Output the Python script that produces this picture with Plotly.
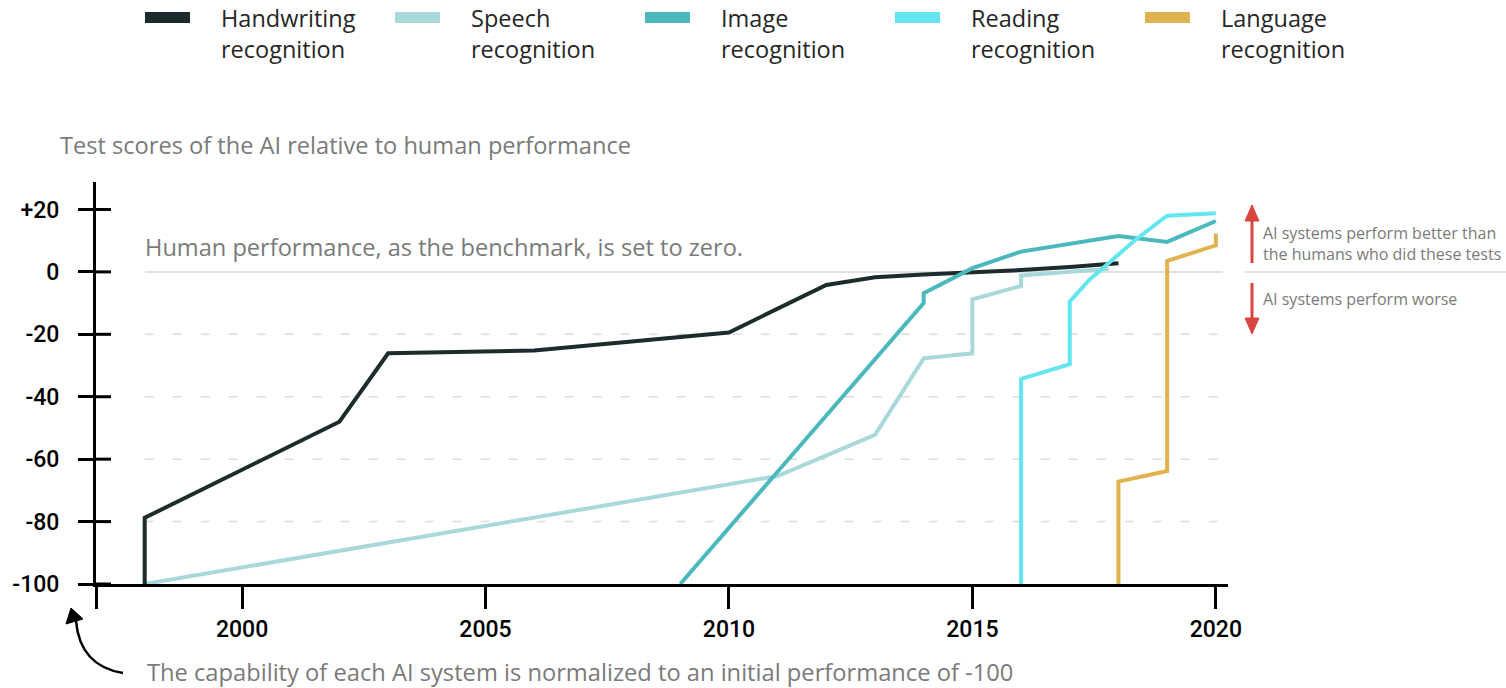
import plotly.graph_objects as go

# ---------------- data ----------------
hand_x = [1998.0, 1998.0, 2002.0, 2003.0, 2006.0, 2010.0, 2012.0, 2013.0, 2014.0, 2015.0, 2016.0, 2017.0, 2018.0]
hand_y = [-100, -78.8, -48.0, -26.1, -25.2, -19.4, -4.2, -1.7, -0.8, -0.2, 0.6, 1.6, 2.8]

speech_x = [1998.0, 2011.0, 2013.0, 2014.0, 2015.0, 2015.0, 2016.0, 2016.0, 2017.8]
speech_y = [-100, -65.4, -52.2, -27.7, -26.1, -8.8, -4.5, -1.2, 1.0]

image_x = [2009.0, 2014.0, 2014.0, 2015.0, 2016.0, 2018.0, 2019.0, 2020.0]
image_y = [-100, -10.0, -6.8, 1.2, 6.5, 11.5, 9.6, 16.3]

reading_x = [2016.0, 2016.0, 2017.0, 2017.0, 2017.4, 2018.35, 2019.0, 2020.0]
reading_y = [-100, -34.3, -29.6, -9.5, -2.6, 10.3, 18.0, 18.8]

lang_x = [2018.0, 2018.0, 2019.0, 2019.0, 2020.0, 2020.0]
lang_y = [-100, -67.2, -63.8, 3.5, 8.5, 12.3]

series_names = ["Handwriting recognition", "Speech recognition", "Image recognition",
                "Reading recognition", "Language recognition"]
series_colors = ["#1c2b2b", "#a9d8da", "#4ab8bd", "#64e6ef", "#dfb350"]

y_tickvals = [20, 0, -20, -40, -60, -80, -100]
y_ticktext = ["+20", "0", "-20", "-40", "-60", "-80", "-100"]
x_tickvals = [1997, 2000, 2005, 2010, 2015, 2020]
x_ticktext = ["", "2000", "2005", "2010", "2015", "2020"]
grid_vals = [-20, -40, -60, -80]

title_text = "Test scores of the AI relative to human performance"
human_text = "Human performance, as the benchmark, is set to zero."
norm_text = "The capability of each AI system is normalized to an initial performance of -100"
better_text = "AI systems perform better than<br>the humans who did these tests"
worse_text = "AI systems perform worse"

# ---------------- layout geometry (pixels) ----------------
W, H = 1506, 688
L, R, T, B = 96, 1228, 182, 584


def px(x):
    return (x - L) / (R - L)


def py(y):
    return (B - y) / (B - T)


FONT = "Roboto"
TFONT = "Open Sans"
GRAY = "#7a7a7a"

series = [
    (hand_x, hand_y), (speech_x, speech_y), (image_x, image_y),
    (reading_x, reading_y), (lang_x, lang_y),
]

fig = go.Figure()
draw_order = [1, 0, 2, 3, 4]
for i in draw_order:
    xs, ys = series[i]
    fig.add_trace(go.Scatter(
        x=xs, y=ys, mode="lines", name=series_names[i],
        line=dict(color=series_colors[i], width=4),
        showlegend=False, hoverinfo="skip",
    ))

shapes = []
# dashed gridlines
for v in grid_vals:
    shapes.append(dict(type="line", xref="x", yref="y", x0=1998, x1=2020.15, y0=v, y1=v,
                       line=dict(color="#dcdcdc", width=1.5, dash="9px,19px"), layer="below"))
# human performance line (with a gap before the side notes)
shapes.append(dict(type="line", xref="paper", yref="y", x0=px(145), x1=px(1223), y0=0, y1=0,
                   line=dict(color="#e0e0e0", width=2), layer="below"))
shapes.append(dict(type="line", xref="paper", yref="y", x0=px(1245), x1=px(1506), y0=0, y1=0,
                   line=dict(color="#e0e0e0", width=2), layer="below"))
# right half of the crossing y ticks
for v in y_tickvals:
    shapes.append(dict(type="line", xref="paper", yref="y", x0=0, x1=px(111), y0=v, y1=v,
                       line=dict(color="black", width=3)))


def path(points, close=False):
    s = "M " + " L ".join(f"{px(a):.5f},{py(b):.5f}" for a, b in points)
    return s + (" Z" if close else "")


RED = "#d8453e"
# red up arrow
shapes.append(dict(type="path", xref="paper", yref="paper", path=path([(1252, 263), (1252, 218)]),
                   line=dict(color=RED, width=3)))
shapes.append(dict(type="path", xref="paper", yref="paper",
                   path=path([(1252, 205), (1245, 221), (1259, 221)], close=True),
                   fillcolor=RED, line=dict(color=RED, width=1)))
# red down arrow
shapes.append(dict(type="path", xref="paper", yref="paper", path=path([(1252, 283), (1252, 321)]),
                   line=dict(color=RED, width=3)))
shapes.append(dict(type="path", xref="paper", yref="paper",
                   path=path([(1252, 334), (1245, 318), (1259, 318)], close=True),
                   fillcolor=RED, line=dict(color=RED, width=1)))
# curved black arrow bottom-left
shapes.append(dict(type="path", xref="paper", yref="paper",
                   path=f"M {px(123):.5f},{py(673):.5f} Q {px(80):.5f},{py(666):.5f} {px(76):.5f},{py(621):.5f}",
                   line=dict(color="black", width=2.5)))
shapes.append(dict(type="path", xref="paper", yref="paper",
                   path=path([(71, 608), (66, 624), (83, 619)], close=True),
                   fillcolor="black", line=dict(color="black", width=1)))
# legend swatches
for i, c in enumerate(series_colors):
    x0 = 145 + 250 * i
    shapes.append(dict(type="rect", xref="paper", yref="paper",
                       x0=px(x0), x1=px(x0 + 45), y0=py(23), y1=py(12),
                       fillcolor=c, line=dict(width=0)))

annotations = []
for i, name in enumerate(series_names):
    first, second = name.split(" ", 1)
    annotations.append(dict(xref="paper", yref="paper", x=px(219 + 250 * i), y=py(33),
                            xanchor="left", yanchor="middle", align="left", showarrow=False,
                            text=f"{first}<br>{second}",
                            font=dict(family=TFONT, size=23.5, color="#262626")))
annotations.append(dict(xref="paper", yref="paper", x=px(58), y=py(145), xanchor="left",
                        yanchor="middle", showarrow=False, text=title_text,
                        font=dict(family=TFONT, size=23.6, color=GRAY)))
annotations.append(dict(xref="paper", yref="paper", x=px(143), y=py(247), xanchor="left",
                        yanchor="middle", showarrow=False, text=human_text,
                        font=dict(family=TFONT, size=23.6, color=GRAY)))
annotations.append(dict(xref="paper", yref="paper", x=px(145), y=py(672), xanchor="left",
                        yanchor="middle", showarrow=False, text=norm_text,
                        font=dict(family=TFONT, size=23.7, color=GRAY)))
annotations.append(dict(xref="paper", yref="paper", x=px(1261), y=py(243), xanchor="left",
                        yanchor="middle", align="left", showarrow=False, text=better_text,
                        font=dict(family=TFONT, size=16, color=GRAY)))
annotations.append(dict(xref="paper", yref="paper", x=px(1261), y=py(299), xanchor="left",
                        yanchor="middle", showarrow=False, text=worse_text,
                        font=dict(family=TFONT, size=16, color=GRAY)))

fig.update_layout(
    width=W, height=H,
    margin=dict(l=L, r=W - R, t=T, b=H - B, pad=0),
    paper_bgcolor="white", plot_bgcolor="white",
    font=dict(family=FONT),
    shapes=shapes, annotations=annotations,
    xaxis=dict(range=[1997, 2020.25], showgrid=False, zeroline=False,
               showline=True, linecolor="black", linewidth=3,
               ticks="outside", ticklen=22, tickwidth=3, tickcolor="black",
               tickvals=x_tickvals, ticktext=x_ticktext,
               tickfont=dict(family=FONT, size=23, color="black", weight=500)),
    yaxis=dict(range=[-100, 28.8], showgrid=False, zeroline=False,
               showline=True, linecolor="black", linewidth=3,
               ticks="outside", ticklen=15, tickwidth=3, tickcolor="black",
               tickvals=y_tickvals, ticktext=y_ticktext, ticklabelstandoff=14,
               tickfont=dict(family=FONT, size=23, color="black", weight=500)),
    showlegend=False,
)

fig.write_html("out.html", config={"displayModeBar": False},
               post_script="document.body.style.margin='0';")
